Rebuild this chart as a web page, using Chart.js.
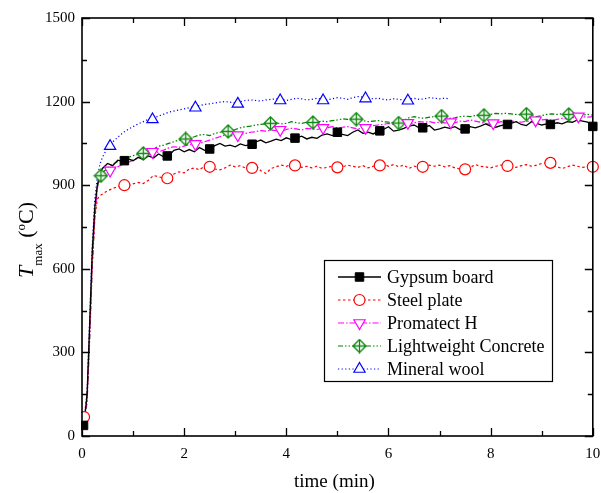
<!DOCTYPE html>
<html>
<head>
<meta charset="utf-8">
<script src="https://cdn.jsdelivr.net/npm/chart.js@4.4.1/dist/chart.umd.min.js"></script>
<style>
html,body{margin:0;padding:0;background:#fff;}
#wrap{width:601px;height:493px;}
</style>
</head>
<body>
<div id="wrap"><canvas id="c" width="601" height="493"></canvas></div>
<script>
// ---------- DATA ----------
const time = [0,0.05,0.1,0.15,0.2,0.25,0.3,0.35,0.4,
 0.5,0.6,0.7,0.8,0.9,1.0,1.1,1.2,1.3,1.4,1.5,
 1.6,1.7,1.8,1.9,2.0,2.1,2.2,2.3,2.4,2.5,
 2.6,2.7,2.8,2.9,3.0,3.1,3.2,3.3,3.4,3.5,
 3.6,3.7,3.8,3.9,4.0,4.1,4.2,4.3,4.4,4.5,
 4.6,4.7,4.8,4.9,5.0,5.1,5.2,5.3,5.4,5.5,
 5.6,5.7,5.8,5.9,6.0,6.1,6.2,6.3,6.4,6.5,
 6.6,6.7,6.8,6.9,7.0,7.1,7.2,7.3,7.4,7.5,
 7.6,7.7,7.8,7.9,8.0,8.1,8.2,8.3,8.4,8.5,
 8.6,8.7,8.8,8.9,9.0,9.1,9.2,9.3,9.4,9.5,
 9.6,9.7,9.8,9.9,10.0];

const gypsum = [40,60,150,400,660,820,900,940,960,
 978,970,990,985,995,988,1000,992,1005,998,1012,
 1002,1006,1025,1030,1020,1028,1020,1035,1025,1030,
 1042,1050,1040,1044,1038,1048,1042,1046,1055,1062,
 1052,1058,1065,1060,1070,1064,1070,1076,1066,1072,
 1068,1080,1084,1078,1088,1082,1078,1090,1098,1086,
 1090,1084,1094,1100,1110,1094,1098,1104,1112,1116,
 1106,1108,1114,1098,1102,1108,1104,1110,1100,1102,
 1110,1106,1112,1120,1112,1108,1114,1118,1122,1128,
 1118,1114,1128,1122,1116,1120,1118,1124,1120,1128,
 1126,1134,1130,1126,1112];

const steel = [65,80,150,380,620,780,850,862,868,
 880,888,895,900,898,905,910,906,918,935,930,
 926,928,940,948,944,958,962,955,968,964,
 958,955,962,972,966,970,962,965,972,952,
 942,960,966,972,968,975,970,964,968,962,
 968,960,964,968,962,966,972,968,964,970,
 962,968,972,976,968,974,966,972,960,968,
 964,966,972,968,972,966,970,962,958,956,
 964,974,968,966,962,968,972,969,966,964,
 970,974,968,972,978,980,972,966,960,966,
 972,968,964,966,950];

const promatect = [60,70,130,360,620,790,890,925,940,
 946,952,966,975,982,990,998,1008,1012,1014,1020,
 1026,1034,1038,1036,1040,1046,1044,1050,1056,1062,
 1068,1074,1080,1078,1076,1082,1086,1090,1092,1096,
 1094,1098,1096,1094,1100,1104,1102,1098,1104,1102,
 1100,1104,1106,1110,1106,1108,1110,1106,1102,1104,
 1110,1114,1116,1118,1122,1118,1114,1120,1118,1124,
 1128,1126,1128,1124,1126,1124,1120,1124,1130,1128,
 1134,1130,1126,1122,1118,1122,1128,1126,1130,1128,
 1126,1130,1128,1132,1134,1136,1132,1136,1140,1138,
 1142,1144,1146,1144,1146];

const concrete = [50,65,120,340,600,780,890,932,945,
 960,975,985,990,1000,1006,1010,1014,1020,1030,1040,
 1044,1050,1056,1062,1066,1070,1074,1080,1082,1078,
 1086,1090,1094,1092,1100,1106,1110,1112,1116,1118,
 1120,1122,1124,1120,1122,1128,1124,1122,1126,1124,
 1126,1130,1128,1132,1134,1138,1136,1134,1136,1132,
 1128,1130,1132,1128,1126,1124,1124,1134,1142,1146,
 1142,1140,1144,1146,1148,1144,1140,1142,1146,1148,
 1146,1150,1152,1150,1154,1158,1156,1158,1156,1154,
 1152,1155,1150,1146,1150,1154,1156,1154,1156,1155,
 1152,1150,1152,1154,1152];

const mineral = [55,70,160,420,680,850,930,975,1000,
 1035,1055,1072,1088,1100,1110,1120,1128,1136,1142,1148,
 1155,1162,1166,1170,1174,1178,1182,1186,1190,1192,
 1195,1198,1200,1198,1196,1200,1204,1206,1204,1202,
 1206,1208,1210,1208,1204,1208,1212,1210,1206,1208,
 1212,1209,1206,1210,1214,1212,1208,1214,1218,1216,
 1214,1210,1212,1208,1206,1210,1208,1206,1208,1212,
 1208,1210,1214,1212,1210,1212,1210];

// marker positions
const gypsumMarkT = [0.03,0.83,1.67,2.5,3.33,4.17,5.0,5.83,6.67,7.5,8.33,9.17,10.0];
const gypsumMark = [38,988,1005,1030,1047,1069,1090,1095,1106,1102,1118,1118,1111];
const steelMarkT = [0.04,0.83,1.67,2.5,3.33,4.17,5.0,5.83,6.67,7.5,8.33,9.17,10.0];
const steelMark = [68,900,925,966,962,971,964,971,966,957,969,980,966];
const promatectMarkT = [0.55,1.38,2.22,3.05,3.88,4.72,5.55,6.38,7.22,8.05,8.88,9.72];
const promatectMark = [953,1020,1048,1080,1099,1106,1106,1124,1126,1123,1133,1147];
const concreteMarkT = [0.37,1.2,2.03,2.86,3.69,4.52,5.37,6.2,7.04,7.87,8.7,9.53];
const concreteMark = [934,1014,1066,1093,1122,1125,1137,1123,1148,1151,1155,1154];
const mineralMarkT = [0.55,1.38,2.22,3.05,3.88,4.72,5.55,6.38];
const mineralMark = [1040,1136,1178,1192,1204,1204,1211,1203];

const seriesNames = ["Gypsum board","Steel plate","Promatect H","Lightweight Concrete","Mineral wool"];
const xMajor = [0,2,4,6,8,10];
const xMinor = [1,3,5,7,9];
const yMajor = [0,300,600,900,1200,1500];
const yMinor = [150,450,750,1050,1350];

// ---------- STYLES ----------
const FONT = "'Liberation Serif','Times New Roman',serif";
function diamondPlus(color){
  const c = document.createElement('canvas');
  c.width = 15; c.height = 15;
  const g = c.getContext('2d');
  g.beginPath();
  g.moveTo(7.5,1); g.lineTo(14,7.5); g.lineTo(7.5,14); g.lineTo(1,7.5); g.closePath();
  g.fillStyle = '#fff'; g.fill();
  g.strokeStyle = color; g.lineWidth = 1.3; g.stroke();
  g.beginPath();
  g.moveTo(7.5,1.5); g.lineTo(7.5,13.5);
  g.moveTo(1.5,7.5); g.lineTo(13.5,7.5);
  g.stroke();
  return c;
}
const styles = [
  {color:'#000000', dash:[], lw:1.3, pt:{pointStyle:'rect', radius:6, rotation:0, fill:'#000000', borderWidth:1}},
  {color:'#ff0000', dash:[2.5,2.5], lw:1.2, pt:{pointStyle:'circle', radius:5.5, rotation:0, fill:'#ffffff', borderWidth:1.2}},
  {color:'#ff00ff', dash:[6,2,1.5,2], lw:1.2, pt:{pointStyle:'triangle', radius:6.5, rotation:180, fill:'#ffffff', borderWidth:1.2}},
  {color:'#008000', dash:[5,2,1.5,2,1.5,2], lw:1.2, pt:{pointStyle:diamondPlus('#118811'), radius:7, rotation:0, fill:'#ffffff', borderWidth:1.2}},
  {color:'#0000ff', dash:[1.2,2.4], lw:1.2, pt:{pointStyle:'triangle', radius:6.5, rotation:0, fill:'#ffffff', borderWidth:1.2}}
];

const lineSeries = [gypsum, steel, promatect, concrete, mineral];
const markTimes = [gypsumMarkT, steelMarkT, promatectMarkT, concreteMarkT, mineralMarkT];
const markVals = [gypsumMark, steelMark, promatectMark, concreteMark, mineralMark];

const datasets = [];
// markers first (drawn on top)
for (let s = 0; s < 5; s++) {
  const st = styles[s];
  datasets.push({
    label: seriesNames[s] + ' markers',
    data: markTimes[s].map((t,i)=>({x:t, y:markVals[s][i]})),
    showLine: false,
    pointStyle: st.pt.pointStyle,
    pointRadius: st.pt.radius,
    pointRotation: st.pt.rotation,
    pointBackgroundColor: st.pt.fill,
    pointBorderColor: st.color,
    pointBorderWidth: st.pt.borderWidth,
    clip: false
  });
}
for (let s = 0; s < 5; s++) {
  const st = styles[s];
  datasets.push({
    label: seriesNames[s],
    data: lineSeries[s].map((v,i)=>({x:time[i], y:v})),
    borderColor: st.color,
    borderWidth: st.lw,
    borderDash: st.dash,
    pointRadius: 0,
    tension: 0,
    fill: false
  });
}

// ---------- PLUGIN: frame, ticks, titles, legend ----------
const decor = {
  id: 'decor',
  afterDraw(chart) {
    const ctx = chart.ctx;
    const a = chart.chartArea;
    const xs = chart.scales.x, ys = chart.scales.y;
    ctx.save();
    // mask marker parts outside the left axis
    ctx.fillStyle = '#fff';
    ctx.fillRect(0, a.top, a.left - 1, a.bottom - a.top + 1);
    ctx.strokeStyle = '#000';
    ctx.setLineDash([]);
    ctx.lineWidth = 1.3;
    ctx.beginPath();
    xMajor.forEach(v => { const p = Math.round(xs.getPixelForValue(v)) + 0.5;
      ctx.moveTo(p, a.bottom); ctx.lineTo(p, a.bottom - 8);
      ctx.moveTo(p, a.top); ctx.lineTo(p, a.top + 8); });
    xMinor.forEach(v => { const p = Math.round(xs.getPixelForValue(v)) + 0.5;
      ctx.moveTo(p, a.bottom); ctx.lineTo(p, a.bottom - 5);
      ctx.moveTo(p, a.top); ctx.lineTo(p, a.top + 5); });
    yMajor.forEach(v => { const p = Math.round(ys.getPixelForValue(v)) + 0.5;
      ctx.moveTo(a.left, p); ctx.lineTo(a.left + 8, p);
      ctx.moveTo(a.right, p); ctx.lineTo(a.right - 8, p); });
    yMinor.forEach(v => { const p = Math.round(ys.getPixelForValue(v)) + 0.5;
      ctx.moveTo(a.left, p); ctx.lineTo(a.left + 5, p);
      ctx.moveTo(a.right, p); ctx.lineTo(a.right - 5, p); });
    ctx.stroke();
    ctx.lineWidth = 1.6;
    ctx.strokeRect(a.left, a.top, a.right - a.left, a.bottom - a.top);

    // y tick labels redrawn (mask covered them)
    ctx.fillStyle = '#000';
    ctx.font = '15px ' + FONT;
    ctx.textAlign = 'right';
    ctx.textBaseline = 'middle';
    yMajor.forEach(v => ctx.fillText(String(v), a.left - 7, ys.getPixelForValue(v)));

    // x title
    ctx.font = '19px ' + FONT;
    ctx.textAlign = 'center';
    ctx.textBaseline = 'middle';
    ctx.fillText('time (min)', (a.left + a.right) / 2 - 3, 482);

    // y title with sub/superscripts
    ctx.save();
    ctx.translate(33, 240);
    ctx.rotate(-Math.PI / 2);
    ctx.textAlign = 'left';
    ctx.textBaseline = 'alphabetic';
    const parts = [
      {t:'T', f:'italic 22px ' + FONT, dy:0},
      {t:'max', f:'13px ' + FONT, dy:9},
      {t:' (', f:'22px ' + FONT, dy:0},
      {t:'o', f:'13px ' + FONT, dy:-8},
      {t:'C)', f:'22px ' + FONT, dy:0}
    ];
    let total = 0;
    parts.forEach(p => { ctx.font = p.f; p.w = ctx.measureText(p.t).width; total += p.w; });
    let cx = -total / 2;
    parts.forEach(p => { ctx.font = p.f; ctx.fillText(p.t, cx, p.dy); cx += p.w; });
    ctx.restore();

    // legend
    const bx = 324, by = 260, bw = 228, bh = 121;
    ctx.fillStyle = '#fff';
    ctx.fillRect(bx, by, bw, bh);
    ctx.lineWidth = 1.2;
    ctx.strokeStyle = '#000';
    ctx.strokeRect(bx + 0.5, by + 0.5, bw, bh);
    const rows = [277, 300, 323, 346, 369];
    for (let s = 0; s < 5; s++) {
      const st = styles[s];
      const y = rows[s];
      ctx.strokeStyle = st.color;
      ctx.lineWidth = st.lw;
      ctx.setLineDash(st.dash);
      ctx.beginPath();
      ctx.moveTo(338, y); ctx.lineTo(381, y);
      ctx.stroke();
      ctx.setLineDash([]);
      ctx.fillStyle = st.pt.fill;
      ctx.strokeStyle = st.color;
      ctx.lineWidth = st.pt.borderWidth;
      Chart.helpers.drawPoint(ctx, {pointStyle: st.pt.pointStyle, radius: st.pt.radius,
        rotation: st.pt.rotation, borderWidth: st.pt.borderWidth}, 359.5, y);
      ctx.fillStyle = '#000';
      ctx.font = '18px ' + FONT;
      ctx.textAlign = 'left';
      ctx.textBaseline = 'middle';
      ctx.fillText(seriesNames[s], 387, y + 1);
    }
    ctx.restore();
  }
};

new Chart(document.getElementById('c'), {
  type: 'line',
  data: { datasets },
  options: {
    responsive: false,
    animation: false,
    events: [],
    layout: { padding: { left: 0, top: 18, right: 7, bottom: 0 } },
    plugins: { legend: { display: false }, tooltip: { enabled: false } },
    scales: {
      x: {
        type: 'linear', min: 0, max: 10,
        grid: { display: false, drawTicks: false },
        border: { display: false },
        ticks: { stepSize: 2, color: '#000', font: { family: FONT, size: 15 }, padding: 9, maxRotation: 0, autoSkip: false,
                 callback: v => String(v) },
        afterFit: s => { s.height = 57; s.paddingLeft = 0; s.paddingRight = 0; }
      },
      y: {
        type: 'linear', min: 0, max: 1500,
        grid: { display: false, drawTicks: false },
        border: { display: false },
        ticks: { stepSize: 300, color: 'rgba(0,0,0,0)', font: { family: FONT, size: 15 }, padding: 7,
                 callback: v => String(v) },
        afterFit: s => { s.width = 82; s.paddingTop = 0; s.paddingBottom = 0; }
      }
    }
  },
  plugins: [decor]
});
</script>
</body>
</html>
